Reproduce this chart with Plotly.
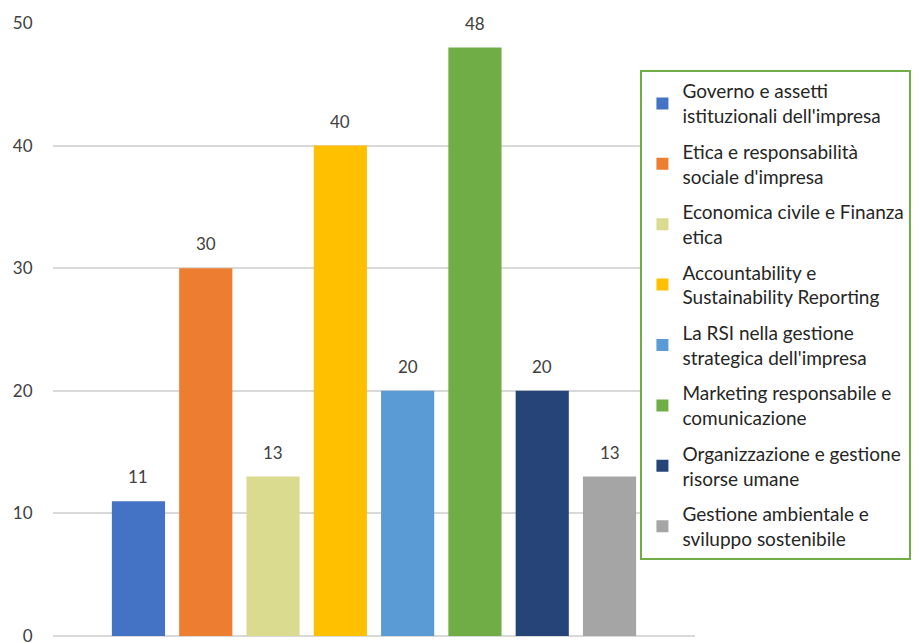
import plotly.graph_objects as go

categories = [
    "Governo e assetti<br>istituzionali dell'impresa",
    "Etica e responsabilità<br>sociale d'impresa",
    "Economica civile e Finanza<br>etica",
    "Accountability e<br>Sustainability Reporting",
    "La RSI nella gestione<br>strategica dell'impresa",
    "Marketing responsabile e<br>comunicazione",
    "Organizzazione e gestione<br>risorse umane",
    "Gestione ambientale e<br>sviluppo sostenibile",
]
values = [11, 30, 13, 40, 20, 48, 20, 13]
colors = ["#4472C4", "#ED7D31", "#DADB8F", "#FFC000",
          "#5B9BD5", "#70AD47", "#264478", "#A5A5A5"]
y_ticks = [0, 10, 20, 30, 40, 50]

FONT = "Lato, Open Sans, sans-serif"

fig = go.Figure()
for i, (name, v, c) in enumerate(zip(categories, values, colors)):
    fig.add_trace(go.Bar(
        x=[i], y=[v], name=name, marker=dict(color=c, line=dict(width=0)),
        width=0.79, legendgroup=f"g{i}", showlegend=True,
        hoverinfo="y",
    ))
    fig.add_annotation(x=i, y=v, text=str(v), showarrow=False,
                       yanchor="bottom", yshift=12,
                       font=dict(family=FONT, size=17, color="#404040"))

fig.update_layout(
    width=922, height=643,
    margin=dict(l=53, r=227, t=23, b=7),
    paper_bgcolor="white", plot_bgcolor="white",
    barmode="overlay",
    font=dict(family=FONT, color="#404040"),
    xaxis=dict(range=[-1.27, 8.27], showticklabels=False, showgrid=False,
               zeroline=False, showline=False, ticks="", automargin=False),
    yaxis=dict(range=[0, 50], tickvals=y_ticks, showgrid=True,
               gridcolor="#D9D9D9", gridwidth=1.5, zeroline=True,
               zerolinecolor="#D9D9D9", zerolinewidth=1.5,
               ticks="outside", ticklen=16, tickcolor="rgba(0,0,0,0)",
               ticklabeloverflow="allow", automargin=False,
               tickfont=dict(family=FONT, size=17, color="#404040")),
    legend=dict(x=0.915, xanchor="left", y=0.923, yanchor="top",
                bgcolor="white", bordercolor="#70AD47", borderwidth=2,
                font=dict(family=FONT, size=19, color="#262626"),
                tracegroupgap=8, traceorder="grouped"),
    showlegend=True,
)

fig.write_html("out.html")
